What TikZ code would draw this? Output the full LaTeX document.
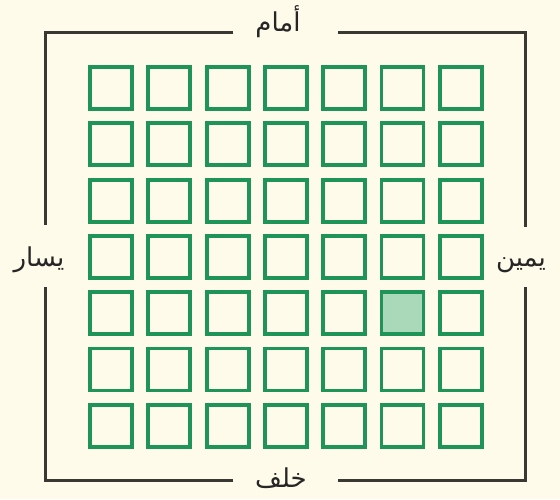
\documentclass[tikz,border=0pt]{standalone}
\usepackage{fontspec}
\newfontfamily\arabicfont[Script=Arabic]{DejaVu Sans}
\TeXXeTstate=1
\definecolor{bg}{HTML}{FFFBEA}
\definecolor{sqgreen}{HTML}{1E9459}
\definecolor{sqfill}{HTML}{A9D9B9}
\definecolor{framec}{HTML}{3A3832}
\definecolor{txt}{HTML}{262626}
\tikzset{
  cell/.style={draw=sqgreen, line width=3.8pt, minimum width=42pt, minimum height=42pt, inner sep=0pt},
  frameline/.style={draw=framec, line width=3pt},
  lbl/.style={font=\arabicfont\fontsize{26}{30}\selectfont, text=txt, inner sep=0pt, anchor=base}
}
\begin{document}
\begin{tikzpicture}[x=1pt,y=-1pt]
\fill[bg] (0,0) rectangle (560,499);
\useasboundingbox (0,0) rectangle (560,499);
% labels
\node[lbl] (front) at (278,31) {\beginR أمام\endR};
\node[lbl] (back) at (281,487) {\beginR خلف\endR};
\node[lbl] (left) at (39,266) {\beginR يسار\endR};
\node[lbl] (right) at (521,266) {\beginR يمين\endR};
% frame corners
\coordinate (tl) at (45,32);
\coordinate (tr) at (525,32);
\coordinate (bl) at (45,480);
\coordinate (br) at (525,480);
\coordinate (t1) at (233,32);
\coordinate (t2) at (338,32);
\coordinate (b1) at (233,480);
\coordinate (b2) at (338,480);
\coordinate (l1) at (45,225);
\coordinate (l2) at (45,287);
\coordinate (r1) at (525,227);
\coordinate (r2) at (525,287);
\draw[frameline] (t1) -- (tl) -- (l1);
\draw[frameline] (l2) -- (bl) -- (b1);
\draw[frameline] (t2) -- (tr) -- (r1);
\draw[frameline] (r2) -- (br) -- (b2);
% grid
\foreach \r in {0,...,6}{
  \foreach \c in {0,...,6}{
    \node[cell] (c\r\c) at ({111+58.3*\c},{88+56.3*\r}) {};
  }
}
\node[cell, fill=sqfill] at (c45.center) {};
\end{tikzpicture}
\end{document}
